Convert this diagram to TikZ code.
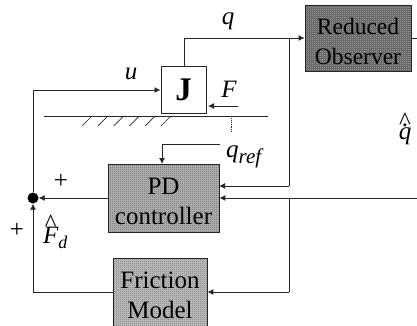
\documentclass[tikz,border=0pt]{standalone}
\usepackage{fontspec}
\setmainfont{Liberation Serif}
\usetikzlibrary{arrows.meta,patterns}
\pgfdeclarepatternformonly{dither}{\pgfqpoint{0pt}{0pt}}{\pgfqpoint{2pt}{2pt}}{\pgfqpoint{2pt}{2pt}}{%
  \pgfpathrectangle{\pgfqpoint{0pt}{0pt}}{\pgfqpoint{1pt}{1pt}}%
  \pgfpathrectangle{\pgfqpoint{1pt}{1pt}}{\pgfqpoint{1pt}{1pt}}%
  \pgfusepath{fill}}
\colorlet{ink}{black!85}
\tikzset{
  x=1pt,y=-1pt,
  conn/.style={draw=ink,line width=0.9pt},
  arr/.style={conn,-{Latex[length=6pt,width=6pt]}},
  blockbase/.style={draw=ink,line width=0.8pt,inner sep=0pt,align=center,text=black,font=\fontsize{25}{30.5}\selectfont},
  darkblock/.style={blockbase,preaction={fill=black!62},pattern=dither,pattern color=white!25!black!45,minimum width=106pt,minimum height=66pt},
  pdblock/.style={blockbase,preaction={fill=black!30},pattern=dither,pattern color=black!55,minimum width=111pt,minimum height=68pt},
  fricblock/.style={blockbase,preaction={fill=black!26},pattern=dither,pattern color=black!50,minimum width=94pt,minimum height=68pt},
  mass/.style={draw=ink,line width=1pt,fill=white,minimum width=45pt,minimum height=46pt,inner sep=0pt,font=\fontsize{33}{35}\selectfont\bfseries},
  lab/.style={inner sep=0pt,font=\fontsize{25}{27}\selectfont\itshape},
  plus/.style={inner sep=0pt,font=\fontsize{25}{27}\selectfont},
  sumdot/.style={circle,fill=black,minimum size=11pt,inner sep=0pt},
  hatch/.style={draw=ink,line width=0.7pt}
}
\newcommand{\hatted}[1]{\ooalign{\hidewidth\raisebox{.45em}{\upshape\^{}}\hidewidth\cr #1\cr}}
\newcommand{\firstline}{\rule{0pt}{23pt}}
\begin{document}
\begin{tikzpicture}
\useasboundingbox (0,0) rectangle (417,326);
\clip (0,0) rectangle (417,326);
\node[darkblock,font=\fontsize{23.5}{30.5}\selectfont] (obs) at (358,38) {\firstline Reduced\\Observer};
\node[mass] (j) at (183.5,90) {J};
\node[pdblock] (pd) at (163.5,198) {\firstline PD\\controller};
\node[fricblock] (fric) at (160,292) {\firstline Friction\\Model};
\node[sumdot] (sum) at (33,198) {};
% coordinates
\coordinate (jt) at (184.5,67);
\coordinate (c1) at (184.5,38);
\coordinate (tap) at (289,38);
\coordinate (c2) at (289,186);
\coordinate (pdr) at (219,186);
\coordinate (in) at (417,198);
\coordinate (tap2) at (289,198);
\coordinate (c3) at (289,292);
\coordinate (c4) at (33,292);
\coordinate (c5) at (33,90);
\coordinate (obsout) at (417,38);
\coordinate (gl) at (44,116);
\coordinate (gr) at (268,116);
\coordinate (fa) at (238,106);
\coordinate (fb) at (208,106);
\coordinate (qa) at (220,144);
\coordinate (qb) at (162,144);
\coordinate (pdt) at (162,164);
\coordinate (da) at (231,116);
\coordinate (db) at (231,133);
% connectors
\draw[arr] (jt) -- (c1) -- (obs.west);
\draw[conn] (obs.east) -- (obsout);
\draw[conn] (tap) -- (c2);
\draw[arr] (c2) -- (pdr);
\draw[arr] (in) -- (pd.east);
\draw[conn] (tap2) -- (c3);
\draw[arr] (c3) -- (fric.east);
\draw[arr] (fric.west) -- (c4) -- (sum.south);
\draw[arr] (pd.west) -- (sum.east);
\draw[arr] (sum.north) -- (c5) -- (j.west);
\draw[conn] (gl) -- (gr);
\foreach \i in {0,...,5}{
  \draw[hatch] (92+15.8*\i,116) -- (82+15.8*\i,126);
}
\draw[arr,line width=0.8pt] (fa) -- (fb);
\draw[conn,densely dotted] (da) -- (db);
\draw[arr] (qa) -- (qb) -- (pdt);
% labels
\node[lab] (lu) at (131,74) {u};
\node[lab] (lq) at (228,21) {q};
\node[lab] (lF) at (229,89) {F};
\node[lab,anchor=base west] (lqr) at (226,157) {q\textsubscript{\fontsize{21}{22}\selectfont ref}};
\node[lab,anchor=base] (lqh) at (405,139) {\ooalign{\hidewidth\raisebox{.5em}{\upshape .}\hidewidth\cr\hidewidth\raisebox{.4em}{\upshape\^{}}\hidewidth\cr q\cr}};
\node[lab,anchor=base west] (lFd) at (43,243) {\hatted{F}\raisebox{-.2em}{\fontsize{18}{19}\selectfont d}};
\node[plus] (p1) at (61,181) {+};
\node[plus] (p2) at (17,230) {+};
\end{tikzpicture}
\end{document}
